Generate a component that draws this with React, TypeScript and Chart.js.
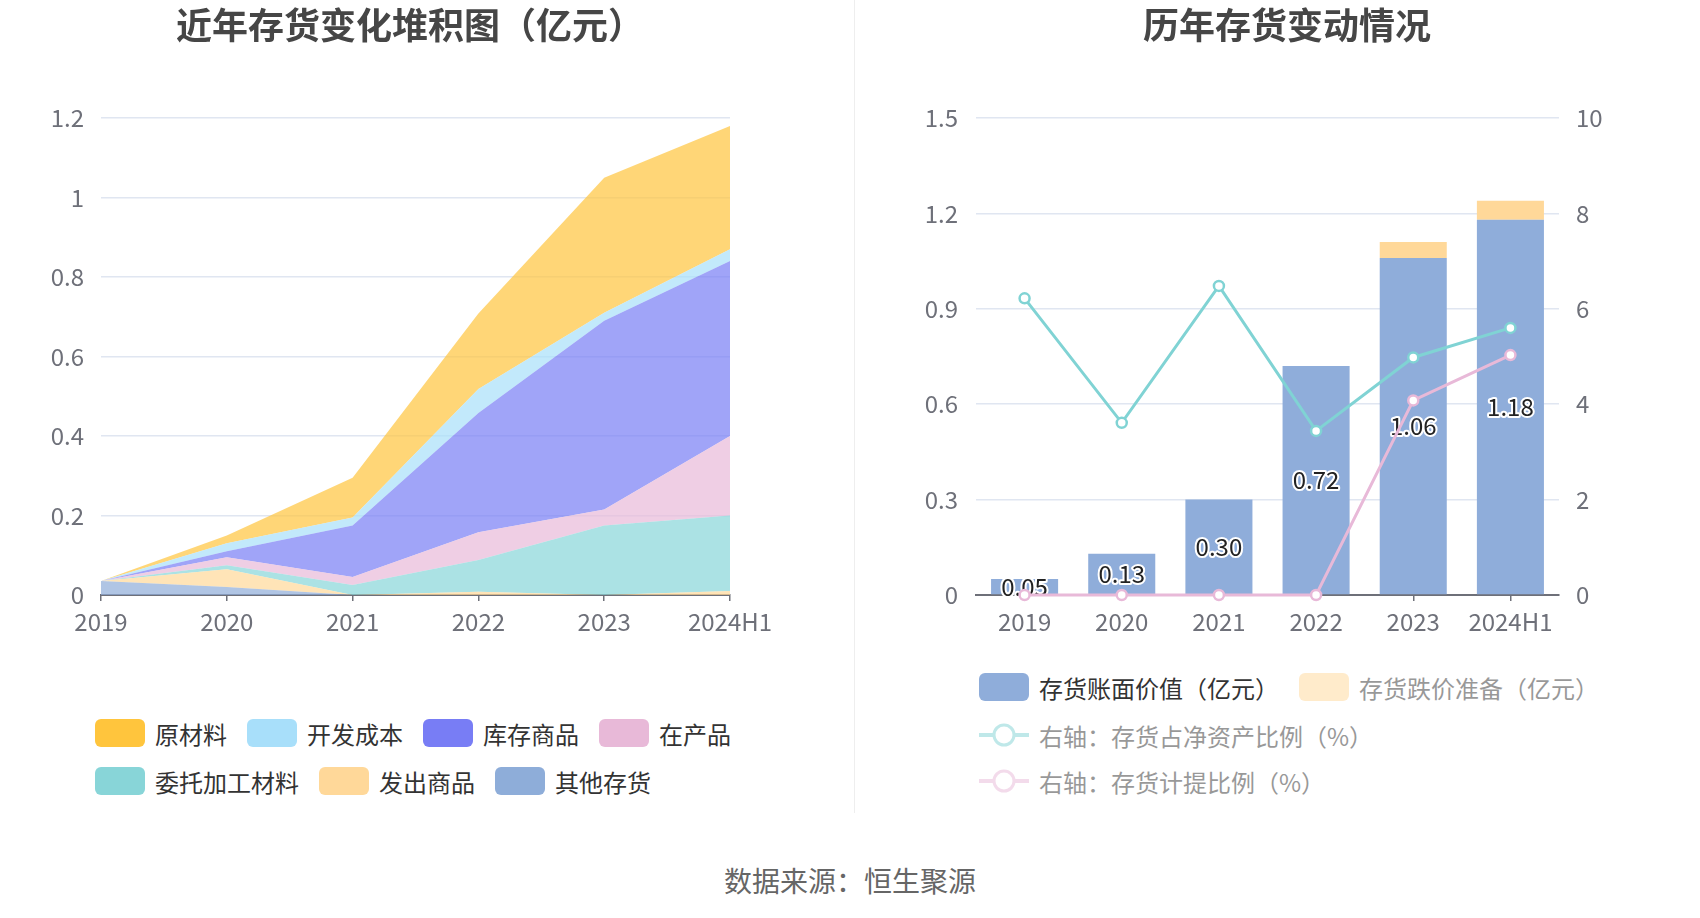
import React, { useEffect, useRef } from 'react';
import { Chart, registerables } from 'chart.js';

Chart.register(...registerables);

const FONT = '"Noto Sans CJK SC", "Noto Sans", sans-serif';
Chart.defaults.font.family = FONT;

// ---------- data ----------
const years = ['2019', '2020', '2021', '2022', '2023', '2024H1'];

// left: stacked inventory components (亿元)
const rawMaterials = [0, 0.02, 0.1, 0.19, 0.34, 0.31]; // 原材料
const devCost = [0, 0.02, 0.02, 0.06, 0.02, 0.03]; // 开发成本
const merchandise = [0, 0.015, 0.13, 0.3, 0.475, 0.44]; // 库存商品
const workInProgress = [0, 0.02, 0.02, 0.07, 0.04, 0.2]; // 在产品
const consigned = [0, 0.01, 0.025, 0.08, 0.175, 0.19]; // 委托加工材料
const shippedGoods = [0, 0.045, 0, 0.008, 0, 0.01]; // 发出商品
const otherInventory = [0.035, 0.02, 0, 0, 0, 0]; // 其他存货

const leftTicks = [0, 0.2, 0.4, 0.6, 0.8, 1, 1.2];

// right: inventory changes
const bookValue = [0.05, 0.13, 0.3, 0.72, 1.06, 1.18]; // 存货账面价值（亿元）
const provision = [0, 0, 0, 0, 0.05, 0.06]; // 存货跌价准备（亿元）
const ratioNetAssets = [6.22, 3.61, 6.48, 3.44, 4.98, 5.6]; // 存货占净资产比例（%）
const provisionRatio = [0, 0, 0, 0, 4.08, 5.03]; // 存货计提比例（%）

// ---------- styles ----------
const AXIS = '#6E7079';
const GRID = '#E0E6F1';

const leftSeries = [
  { name: '原材料', data: rawMaterials, color: '#FFC53D' },
  { name: '开发成本', data: devCost, color: '#A8DFFA' },
  { name: '库存商品', data: merchandise, color: '#787DF5' },
  { name: '在产品', data: workInProgress, color: '#E8B9D8' },
  { name: '委托加工材料', data: consigned, color: '#88D5D8' },
  { name: '发出商品', data: shippedGoods, color: '#FFD899' },
  { name: '其他存货', data: otherInventory, color: '#8EADD9' },
];

function hexA(hex: string, a: number) {
  const n = parseInt(hex.slice(1), 16);
  return `rgba(${(n >> 16) & 255},${(n >> 8) & 255},${n & 255},${a})`;
}

function fmt(v: number) {
  return String(Number(v.toFixed(2)));
}

const barLabelPlugin = {
  id: 'barLabels',
  afterDatasetDraw(chart: any, args: any) {
    if (args.index !== 0) return;
    const ctx = chart.ctx;
    const meta = chart.getDatasetMeta(0);
    const data = chart.data.datasets[0].data;
    ctx.save();
    ctx.font = `24px ${FONT}`;
    ctx.textAlign = 'center';
    ctx.textBaseline = 'middle';
    ctx.lineJoin = 'round';
    meta.data.forEach((bar: any, i: number) => {
      const y = (bar.y + bar.base) / 2;
      const t = Number(data[i]).toFixed(2);
      ctx.strokeStyle = '#ffffff';
      ctx.lineWidth = 4;
      ctx.strokeText(t, bar.x, y);
      ctx.fillStyle = '#222222';
      ctx.fillText(t, bar.x, y);
    });
    ctx.restore();
  },
};

function LeftChart() {
  const ref = useRef<HTMLCanvasElement>(null);
  useEffect(() => {
    const bottomFirst = [...leftSeries].reverse();
    const chart = new Chart(ref.current!, {
      type: 'line',
      data: {
        labels: years,
        datasets: bottomFirst.map((s, i) => ({
          label: s.name,
          data: s.data,
          borderWidth: 0,
          borderColor: 'rgba(0,0,0,0)',
          backgroundColor: hexA(s.color, 0.7),
          fill: i === 0 ? 'origin' : '-1',
          pointRadius: 0,
          tension: 0,
        })),
      },
      options: {
        responsive: false,
        animation: false,
        layout: { padding: { top: 118, right: 124, bottom: 15, left: 0 } },
        plugins: { legend: { display: false }, tooltip: { enabled: false } },
        scales: {
          x: {
            type: 'category',
            offset: false,
            grid: { display: true, drawOnChartArea: false, drawTicks: true, tickLength: 6, color: AXIS, lineWidth: 1.5 },
            border: { display: true, color: AXIS, width: 2 },
            ticks: { color: AXIS, font: { size: 24, family: FONT }, padding: 6, maxRotation: 0, autoSkip: false },
            afterFit: (s: any) => { s.height = 50; },
          },
          y: {
            stacked: true,
            min: 0,
            max: 1.2,
            afterBuildTicks: (s: any) => { s.ticks = leftTicks.map((v) => ({ value: v })); },
            grid: { color: GRID, lineWidth: 1.5, drawTicks: false },
            border: { display: false },
            ticks: { color: AXIS, font: { size: 24, family: FONT }, padding: 17, callback: (v: any) => fmt(Number(v)) },
            afterFit: (s: any) => { s.width = 101; },
          },
        },
      },
    });
    return () => chart.destroy();
  }, []);
  return <canvas ref={ref} width={854} height={660} style={{ position: 'absolute', left: 0, top: 0, width: 854, height: 660 }} />;
}

function RightChart() {
  const ref = useRef<HTMLCanvasElement>(null);
  useEffect(() => {
    const chart = new Chart(ref.current!, {
      type: 'bar',
      data: {
        labels: years,
        datasets: [
          {
            type: 'bar',
            label: '存货账面价值（亿元）',
            data: bookValue,
            backgroundColor: '#8FADDA',
            stack: 's',
            yAxisID: 'y',
            order: 2,
            barPercentage: 0.69,
            categoryPercentage: 1,
          },
          {
            type: 'bar',
            label: '存货跌价准备（亿元）',
            data: provision,
            backgroundColor: '#FFD899',
            stack: 's',
            yAxisID: 'y',
            order: 2,
            barPercentage: 0.69,
            categoryPercentage: 1,
          },
          {
            type: 'line',
            label: '右轴：存货占净资产比例（%）',
            data: ratioNetAssets,
            yAxisID: 'y1',
            borderColor: '#80D3D4',
            borderWidth: 3,
            pointRadius: 5,
            pointBorderWidth: 2.5,
            pointBackgroundColor: '#ffffff',
            pointBorderColor: '#80D3D4',
            tension: 0,
            order: 1,
            clip: false,
          } as any,
          {
            type: 'line',
            label: '右轴：存货计提比例（%）',
            data: provisionRatio,
            yAxisID: 'y1',
            borderColor: '#E8B9D8',
            borderWidth: 3,
            pointRadius: 5,
            pointBorderWidth: 2.5,
            pointBackgroundColor: '#ffffff',
            pointBorderColor: '#E8B9D8',
            tension: 0,
            order: 1,
            clip: false,
          } as any,
        ],
      },
      options: {
        responsive: false,
        animation: false,
        layout: { padding: { top: 118, right: 0, bottom: 15, left: 0 } },
        plugins: { legend: { display: false }, tooltip: { enabled: false } },
        scales: {
          x: {
            type: 'category',
            stacked: true,
            offset: true,
            grid: { display: true, offset: false, drawOnChartArea: false, drawTicks: true, tickLength: 6, color: AXIS, lineWidth: 1.5 },
            border: { display: true, color: AXIS, width: 2 },
            ticks: { color: AXIS, font: { size: 24, family: FONT }, padding: 6, maxRotation: 0, autoSkip: false },
            afterFit: (s: any) => { s.height = 50; },
          },
          y: {
            stacked: true,
            position: 'left',
            min: 0,
            max: 1.5,
            ticks: { stepSize: 0.3, color: AXIS, font: { size: 24, family: FONT }, padding: 18, callback: (v: any) => fmt(Number(v)) },
            grid: { color: GRID, lineWidth: 1.5, drawTicks: false },
            border: { display: false },
            afterFit: (s: any) => { s.width = 122; },
          },
          y1: {
            position: 'right',
            min: 0,
            max: 10,
            ticks: { stepSize: 2, color: AXIS, font: { size: 24, family: FONT }, padding: 17 },
            grid: { drawOnChartArea: false, drawTicks: false },
            border: { display: false },
            afterFit: (s: any) => { s.width = 141; },
          },
        },
      },
      plugins: [barLabelPlugin],
    });
    return () => chart.destroy();
  }, []);
  return <canvas ref={ref} width={846} height={660} style={{ position: 'absolute', left: 854, top: 0, width: 846, height: 660 }} />;
}

const textBase: React.CSSProperties = { fontFamily: FONT, position: 'absolute', whiteSpace: 'nowrap' };

function BoxItem({ color, label, faded, textColor }: { color: string; label: string; faded?: boolean; textColor?: string }) {
  return (
    <div style={{ display: 'flex', alignItems: 'center', marginRight: 20, opacity: faded ? 0.5 : 1 }}>
      <div style={{ width: 50, height: 28, borderRadius: 6, background: color, marginRight: 10 }} />
      <span style={{ fontSize: 24, color: textColor || '#333' }}>{label}</span>
    </div>
  );
}

function LineItem({ color, label }: { color: string; label: string }) {
  return (
    <div style={{ display: 'flex', alignItems: 'center', opacity: 0.5 }}>
      <svg width={50} height={28} style={{ marginRight: 10 }}>
        <line x1={0} y1={14} x2={50} y2={14} stroke={color} strokeWidth={4} />
        <circle cx={25} cy={14} r={10} fill="#fff" stroke={color} strokeWidth={3} />
      </svg>
      <span style={{ fontSize: 24, color: '#333' }}>{label}</span>
    </div>
  );
}

export default function App() {
  const row = (top: number, left: number): React.CSSProperties => ({
    ...textBase,
    top: top - 16,
    left,
    height: 32,
    display: 'flex',
    alignItems: 'center',
  });
  return (
    <div style={{ position: 'absolute', left: 0, top: 0, width: 1700, height: 918, background: '#fff', overflow: 'hidden' }}>
      <LeftChart />
      <RightChart />
      <div style={{ position: 'absolute', left: 854, top: 0, width: 1, height: 813, background: '#EEEEEE' }} />
      <div style={{ ...textBase, left: 110, width: 600, top: 3, lineHeight: '40px', textAlign: 'center', fontSize: 36, fontWeight: 'bold', color: '#464646' }}>
        近年存货变化堆积图（亿元）
      </div>
      <div style={{ ...textBase, left: 987, width: 600, top: 3, lineHeight: '40px', textAlign: 'center', fontSize: 36, fontWeight: 'bold', color: '#464646' }}>
        历年存货变动情况
      </div>

      <div style={row(733, 95)}>
        {leftSeries.slice(0, 4).map((s) => (
          <BoxItem key={s.name} color={s.color} label={s.name} />
        ))}
      </div>
      <div style={row(781, 95)}>
        {leftSeries.slice(4).map((s) => (
          <BoxItem key={s.name} color={s.color} label={s.name} />
        ))}
      </div>

      <div style={row(687, 979)}>
        <BoxItem color="#8FADDA" label="存货账面价值（亿元）" />
        <BoxItem color="#FFD899" label="存货跌价准备（亿元）" faded />
      </div>
      <div style={row(735, 979)}>
        <LineItem color="#80D3D4" label="右轴：存货占净资产比例（%）" />
      </div>
      <div style={row(781, 979)}>
        <LineItem color="#E8B9D8" label="右轴：存货计提比例（%）" />
      </div>

      <div style={{ ...textBase, left: 550, width: 600, top: 862, lineHeight: '36px', textAlign: 'center', fontSize: 28, color: '#666' }}>
        数据来源：恒生聚源
      </div>
    </div>
  );
}
